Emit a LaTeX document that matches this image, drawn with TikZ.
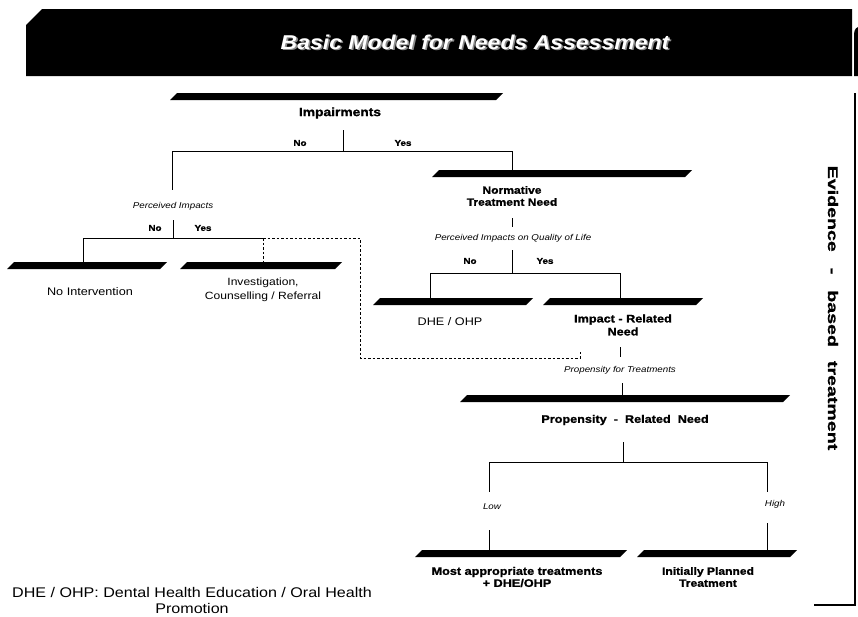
\documentclass[tikz,border=0pt]{standalone}
\usepackage{fontspec}
\setmainfont{Liberation Sans}[FakeStretch=1.15, BoldFeatures={FakeBold=1.2}]
\newfontfamily\sidefont{Liberation Sans}[FakeStretch=1.4, BoldFeatures={FakeBold=1.2}]
\begin{document}
\begin{tikzpicture}[x=1pt,y=-1pt,
  bar/.style={rectangle, inner sep=0pt, outer sep=0pt, minimum height=7pt,
    minimum width=#1pt, anchor=north west,
    path picture={\fill[black] (path picture bounding box.south west)
      -- ([xshift=-7pt]path picture bounding box.south east)
      -- (path picture bounding box.north east)
      -- ([xshift=7pt]path picture bounding box.north west) -- cycle;}},
  head/.style={font=\fontsize{11}{13}\selectfont\bfseries, align=center, inner sep=0pt},
  plain/.style={font=\fontsize{11}{14}\selectfont, align=center, inner sep=0pt},
  cond/.style={font=\fontsize{8.5}{10}\selectfont\itshape, inner sep=0pt},
  yn/.style={font=\fontsize{8.5}{10}\selectfont\bfseries, inner sep=0pt},
  title/.style={font=\fontsize{20}{24}\selectfont\bfseries\itshape, inner sep=0pt},
  link/.style={line width=0.9pt},
  alt/.style={line width=0.9pt, dash pattern=on 2.5pt off 2pt}]
\useasboundingbox (0,0) rectangle (858,616);
\clip (0,0) rectangle (858,616);

% heading band
\fill[black] (26,25) -- (42,9) -- (852,9) -- (852,76) -- (26,76) -- cycle;
\fill[black] (854,76) -- (854,36) to[out=90,in=200] (858,27) -- (858,76) -- cycle;
\node[title, text=black!45] (ttlS) at (476.6,43.4) {Basic Model for Needs Assessment};
\node[title, text=white] (ttl) at (475,42) {Basic Model for Needs Assessment};

% level 1: impairments
\node[bar=333] (impB) at (170,93) {};
\node[head, font=\fontsize{12}{14}\selectfont\bfseries] (imp) at (340,113) {Impairments};
\coordinate (impS) at (343,130);
\coordinate (impJ) at (343,151);
\coordinate (impL) at (172,151);
\coordinate (impR) at (512,151);
\node[yn] (n1) at (300,143) {No};
\node[yn] (y1) at (403,143) {Yes};
\draw[link] (impS) -- (impJ);
\draw[link] (impL) -- (impR);

% left branch: perceived impacts
\coordinate (piTop) at (172,190);
\draw[link] (impL) -- (piTop);
\node[cond] (pi) at (173,206) {Perceived Impacts};
\coordinate (piS) at (173,220);
\coordinate (piJ) at (173,238);
\coordinate (piL) at (83,238);
\coordinate (piR) at (263,238);
\node[yn] (n2) at (155,228) {No};
\node[yn] (y2) at (203,228) {Yes};
\draw[link] (piS) -- (piJ);
\draw[link] (piL) -- (piR);
\node[bar=160] (niB) at (7,262) {};
\node[bar=162] (icB) at (180,262) {};
\draw[link] (piL) -- (piL |- niB.north);
\draw[alt] (piR) -- (piR |- icB.north);
\node[plain] (ni) at (90,292) {No Intervention};
\node[plain, font=\fontsize{10.5}{14}\selectfont] (ic) at (263,290) {Investigation,\\Counselling / Referral};
\coordinate (dA) at (360,238);
\coordinate (dB) at (360,358);
\coordinate (dC) at (580,358);
\coordinate (dD) at (580,350);
\draw[alt] (piR) -- (dA) -- (dB) -- (dC) -- (dD);

% right branch: normative need
\node[bar=260] (ntB) at (432,170) {};
\draw[link] (impR) -- (impR |- ntB.north);
\node[head, font=\fontsize{10.5}{12}\selectfont\bfseries] (nt) at (512,196) {Normative\\Treatment Need};
\coordinate (ntS) at (512,218);
\coordinate (ntE) at (512,227);
\draw[link] (ntS) -- (ntE);
\node[cond] (qol) at (513,238) {Perceived Impacts on Quality of Life};
\coordinate (qS) at (512,250);
\coordinate (qJ) at (512,273);
\coordinate (qL) at (430,273);
\coordinate (qR) at (620,273);
\node[yn] (n3) at (470,261) {No};
\node[yn] (y3) at (545,261) {Yes};
\draw[link] (qS) -- (qJ);
\draw[link] (qL) -- (qR);
\node[bar=160] (dhB) at (373,298) {};
\node[bar=160] (irB) at (543,298) {};
\draw[link] (qL) -- (qL |- dhB.north);
\draw[link] (qR) -- (qR |- irB.north);
\node[plain] (dh) at (450,322) {DHE / OHP};
\node[head] (ir) at (623,325) {Impact - Related\\Need};

% propensity
\coordinate (irS) at (620,347);
\coordinate (irE) at (620,357);
\draw[link] (irS) -- (irE);
\node[cond] (pt) at (620,370) {Propensity for Treatments};
\coordinate (ptS) at (622,383);
\node[bar=330] (prB) at (460,395) {};
\draw[link] (ptS) -- (ptS |- prB.north);
\node[head] (pr) at (625,420) {Propensity\ \ -\ \ Related\ \ Need};
\coordinate (prS) at (623,442);
\coordinate (prJ) at (623,462);
\coordinate (prL) at (489,462);
\coordinate (prR) at (767,462);
\draw[link] (prS) -- (prJ);
\draw[link] (prL) -- (prR);
\coordinate (loE) at (489,492);
\coordinate (loS) at (489,530);
\coordinate (hiE) at (767,492);
\coordinate (hiS) at (767,523);
\draw[link] (prL) -- (loE);
\draw[link] (prR) -- (hiE);
\node[cond, font=\fontsize{8.5}{10}\selectfont\itshape] (lo) at (492,507) {Low};
\node[cond, font=\fontsize{8.5}{10}\selectfont\itshape] (hi) at (775,504) {High};
\node[bar=212] (maB) at (415,550) {};
\node[bar=160] (ipB) at (637,550) {};
\draw[link] (loS) -- (loS |- maB.north);
\draw[link] (hiS) -- (hiS |- ipB.north);
\node[head, font=\fontsize{11}{12}\selectfont\bfseries] (ma) at (517,577) {Most appropriate treatments\\+ DHE/OHP};
\node[head, font=\fontsize{10.5}{12}\selectfont\bfseries] (ip) at (708,577) {Initially Planned\\Treatment};

% evidence frame
\coordinate (fT) at (855,93);
\coordinate (fC) at (855,605);
\coordinate (fE) at (814,605);
\draw[line width=1.3pt] (fT) -- (fC) -- (fE);
\node[rotate=-90, font=\sidefont\fontsize{14}{16}\selectfont\bfseries, inner sep=0pt] (ev) at (833,308)
  {Evidence\hspace{16pt}-\hspace{16pt}based\hspace{14pt}treatment};

% footnote
\node[font=\fontsize{14}{16}\selectfont, align=center, inner sep=0pt] (fn) at (192,600)
  {DHE / OHP: Dental Health Education / Oral Health\\Promotion};
\end{tikzpicture}
\end{document}
